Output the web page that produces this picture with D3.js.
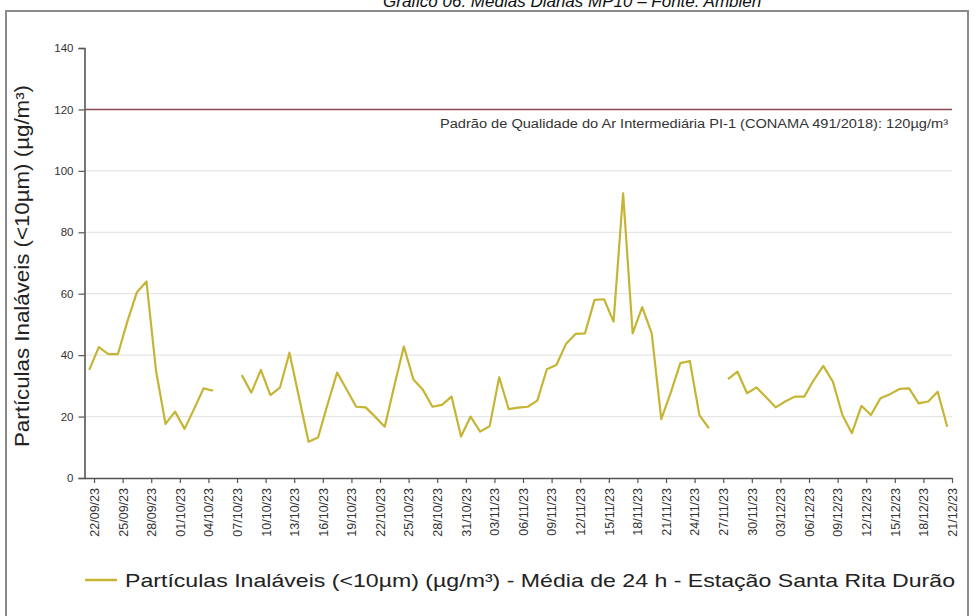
<!DOCTYPE html>
<html lang="pt-BR">
<head>
<meta charset="utf-8">
<script src="https://cdn.jsdelivr.net/npm/d3@7"></script>
<style>
  html, body { margin: 0; padding: 0; background: #fff; }
  svg { display: block; font-family: "Liberation Sans", Arial, sans-serif; }
</style>
</head>
<body>
<svg id="chart" width="976" height="616"></svg>
<script>
// Daily PM10 means (µg/m³), 22/09/23 to 21/12/23; null = no valid measurement
const pm10 = [
  35.2, 42.6, 40.3, 40.3, 51.0, 60.5, 64.0, 35.0, 17.6, 21.6,
  16.0, 22.5, 29.2, 28.4, null, null, 33.5, 27.8, 35.2, 27.0,
  29.4, 40.8, 26.3, 11.8, 13.2, 24.0, 34.3, 28.8, 23.2, 23.0,
  19.9, 16.7, 30.0, 42.8, 32.1, 28.7, 23.2, 23.8, 26.5, 13.5,
  20.0, 15.1, 16.9, 32.8, 22.4, 22.9, 23.2, 25.2, 35.4, 36.8,
  43.6, 46.9, 47.1, 58.0, 58.2, 50.9, 92.7, 47.1, 55.6, 47.1,
  19.2, 27.8, 37.4, 38.1, 20.5, 16.2, null, 32.2, 34.6, 27.6,
  29.5, 26.3, 23.0, 24.9, 26.5, 26.5, 31.9, 36.5, 31.4, 20.5,
  14.6, 23.5, 20.5, 26.0, 27.3, 29.0, 29.2, 24.3, 24.9, 28.1,
  16.7
];

// Category axis labels, one every third day
const dateLabels = [
  "22/09/23", "25/09/23", "28/09/23", "01/10/23", "04/10/23", "07/10/23",
  "10/10/23", "13/10/23", "16/10/23", "19/10/23", "22/10/23", "25/10/23",
  "28/10/23", "31/10/23", "03/11/23", "06/11/23", "09/11/23", "12/11/23",
  "15/11/23", "18/11/23", "21/11/23", "24/11/23", "27/11/23", "30/11/23",
  "03/12/23", "06/12/23", "09/12/23", "12/12/23", "15/12/23", "18/12/23",
  "21/12/23"
];

const yTicks = [0, 20, 40, 60, 80, 100, 120, 140];
const gridValues = [20, 40, 60, 80, 100];
const standardValue = 120;

const titleText = "Gráfico 06: Médias Diárias MP10 – Fonte: Ambien";
const yTitle = "Partículas Inaláveis (<10µm) (µg/m³)";
const standardLabel = "Padrão de Qualidade do Ar Intermediária PI-1 (CONAMA 491/2018): 120µg/m³";
const seriesName = "Partículas Inaláveis (<10µm) (µg/m³) - Média de 24 h - Estação Santa Rita Durão";

const svg = d3.select("#chart");
const lineColor = "#c6b534";

// Outer frame and the title sitting just above it
svg.append("text")
  .attr("x", 383).attr("y", 7)
  .attr("font-size", 17).attr("font-style", "italic")
  .attr("fill", "#111")
  .text(titleText);

svg.append("rect")
  .attr("x", 6).attr("y", 11).attr("width", 962).attr("height", 620)
  .attr("fill", "none").attr("stroke", "#8a8a8a").attr("stroke-width", 2);

// Scales: one band per day, points drawn at band centres
const x = d3.scaleLinear().domain([0, pm10.length]).range([84.5, 952]);
const y = d3.scaleLinear().domain([0, 140]).range([478, 48]);

// Horizontal gridlines
svg.append("g").selectAll("line").data(gridValues).join("line")
  .attr("x1", 85).attr("x2", 952)
  .attr("y1", d => y(d)).attr("y2", d => y(d))
  .attr("stroke", "#e6e6e6").attr("stroke-width", 1.3);

// Air quality standard line
svg.append("line")
  .attr("x1", 85).attr("x2", 952)
  .attr("y1", y(standardValue)).attr("y2", y(standardValue))
  .attr("stroke", "#8e4b52").attr("stroke-width", 1.5);

svg.append("text")
  .attr("x", 948).attr("y", y(standardValue) + 19)
  .attr("text-anchor", "end")
  .attr("font-size", 12.5).attr("fill", "#333")
  .attr("textLength", 508).attr("lengthAdjust", "spacingAndGlyphs")
  .text(standardLabel);

// Y axis
const yAxis = svg.append("g")
  .attr("transform", "translate(84.5,0)")
  .call(d3.axisLeft(y).tickValues(yTicks).tickSize(6).tickPadding(5));
yAxis.select(".domain").attr("stroke", "#555").attr("stroke-width", 1.6);
yAxis.selectAll(".tick line").attr("stroke", "#555").attr("stroke-width", 1.2);
yAxis.selectAll(".tick text")
  .attr("font-size", 11.5).attr("fill", "#333")
  .attr("font-family", "Liberation Sans, Arial, sans-serif");

// X axis: ticks on the right edge of every third day's band
const tickIdx = d3.range(0, pm10.length, 3);
const xAxis = svg.append("g")
  .attr("transform", `translate(0,${y(0)})`)
  .call(d3.axisBottom(x)
    .tickValues(tickIdx.map(i => i + 1))
    .tickSize(5)
    .tickSizeOuter(0)
    .tickFormat((d, k) => dateLabels[k]));
xAxis.select(".domain").attr("stroke", "#555").attr("stroke-width", 1.6);
xAxis.selectAll(".tick line").attr("stroke", "#555").attr("stroke-width", 1.2);
xAxis.selectAll(".tick text")
  .attr("font-size", 12.5).attr("fill", "#333")
  .attr("font-family", "Liberation Sans, Arial, sans-serif")
  .attr("text-anchor", "end")
  .attr("transform", "rotate(-90)")
  .attr("x", -10).attr("y", 0).attr("dy", "0.35em");

// Daily series with gaps for missing days
const line = d3.line()
  .defined(d => d != null)
  .x((d, i) => x(i + 0.5))
  .y(d => y(d));

svg.append("path")
  .datum(pm10)
  .attr("d", line)
  .attr("fill", "none")
  .attr("stroke", lineColor)
  .attr("stroke-width", 2.2)
  .attr("stroke-linejoin", "round");

// Y axis title
svg.append("text")
  .attr("transform", "translate(29,266) rotate(-90)")
  .attr("text-anchor", "middle")
  .attr("font-size", 19.5).attr("fill", "#222")
  .attr("textLength", 362).attr("lengthAdjust", "spacingAndGlyphs")
  .text(yTitle);

// Legend
const legend = svg.append("g").attr("transform", "translate(85,580)");
legend.append("line")
  .attr("x1", 0).attr("x2", 32).attr("y1", 0).attr("y2", 0)
  .attr("stroke", lineColor).attr("stroke-width", 2.5);
legend.append("text")
  .attr("x", 40).attr("y", 0).attr("dy", "0.35em")
  .attr("font-size", 19).attr("fill", "#222")
  .attr("textLength", 830).attr("lengthAdjust", "spacingAndGlyphs")
  .text(seriesName);
</script>
</body>
</html>
